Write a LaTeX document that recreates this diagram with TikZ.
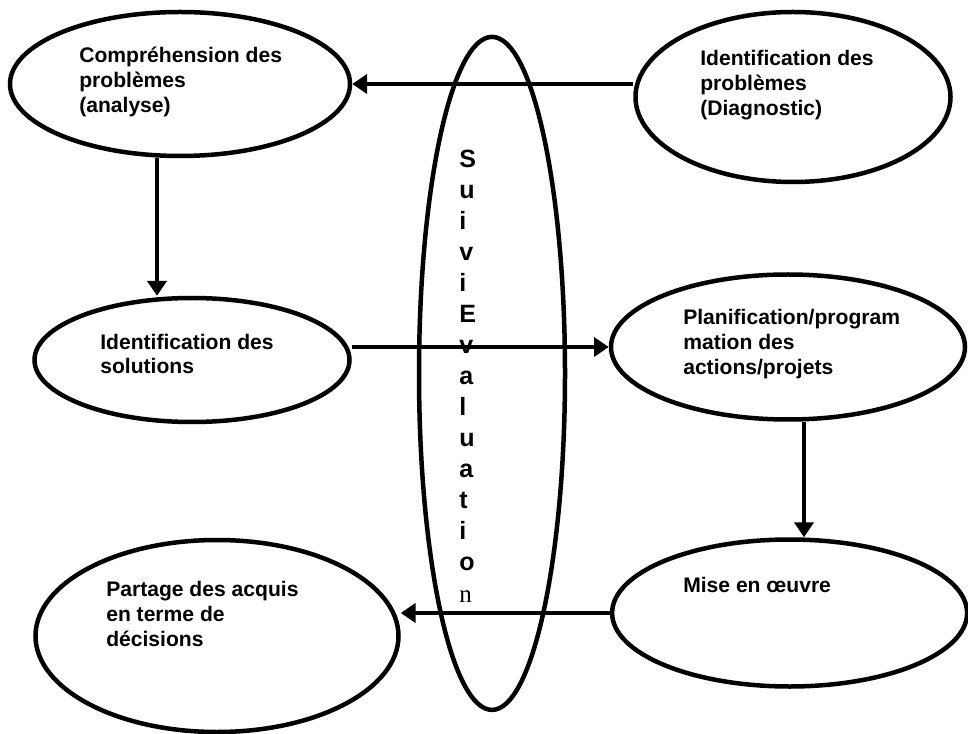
\documentclass[tikz,border=0pt]{standalone}
\usepackage{fontspec}
\setsansfont{Liberation Sans}
\newfontfamily\timesfont{Liberation Serif}
\usepackage{tikz}
\usetikzlibrary{shapes.geometric, arrows.meta, positioning}
\tikzset{
    stage/.style={draw, ellipse, line width=3.2pt, inner sep=0pt},
    stagetext/.style={anchor=base west, align=left, inner sep=0pt, font=\sffamily\bfseries\fontsize{15}{17.6}\selectfont},
    suivitext/.style={anchor=base west, align=left, inner sep=0pt, font=\sffamily\bfseries\fontsize{17.8}{22.1}\selectfont},
    flow/.style={-{Triangle[length=10.5pt, width=13.5pt]}, line width=2.8pt},
}
\begin{document}
\begin{tikzpicture}
                \useasboundingbox (0, 0) rectangle (24.2, 18.325);
                
                % Suivi Evaluation
                \node[stage, minimum width=3.65cm, minimum height=16.825cm] (suivi) at (12.3, 8.99) {};
                \node[suivitext] (suivitxt) at (11.475, 3.275) {S\\u\\i\\v\\i\\E\\v\\a\\l\\u\\a\\t\\i\\o\\{\timesfont\mdseries n}};
                
                % Left column
                \node[stage, minimum width=8.5cm, minimum height=3.6cm] (analyse) at (4.5, 16.225) {};
                \node[stagetext] (analysetxt) at (1.975, 15.52) {Compréhension des\\problèmes\\(analyse)};
                \node[stage, minimum width=7.875cm, minimum height=3.1cm] (solutions) at (4.8, 9.325) {};
                \node[stagetext] (solutionstxt) at (2.5, 8.98) {Identification des\\solutions};
                \node[stage, minimum width=9.075cm, minimum height=4.8cm] (partage) at (5.425, 2.425) {};
                \node[stagetext] (partagetxt) at (2.65, 2.165) {Partage des acquis\\en terme de\\décisions};
                
                % Right column
                \node[stage, minimum width=7.875cm, minimum height=4.25cm] (diagnostic) at (19.825, 15.9) {};
                \node[stagetext] (diagnostictxt) at (17.5, 15.44) {Identification des\\problèmes\\(Diagnostic)};
                \node[stage, minimum width=8.85cm, minimum height=3.625cm] (planif) at (19.7, 9.65) {};
                \node[stagetext] (planiftxt) at (17.075, 8.965) {Planification/program\\mation des\\actions/projets};
                \node[stage, minimum width=8.875cm, minimum height=3.675cm] (oeuvre) at (19.74, 3.0) {};
                \node[stagetext] (oeuvretxt) at (17.075, 3.525) {Mise en œuvre};
                
                % Arrows
                \draw[flow] (diagnostic.west |- analyse.east) -- (analyse.east);
                \draw[flow] ([xshift=-0.575cm]analyse.south) -- ([xshift=-0.575cm]analyse.south |- solutions.north);
                \draw[flow] (solutions.east |- planif.west) -- (planif.west);
                \draw[flow] ([xshift=0.4cm]planif.south) -- ([xshift=0.4cm]planif.south |- oeuvre.north);
                \draw[flow] (oeuvre.west) -- (oeuvre.west -| partage.east);
            \end{tikzpicture}
\end{document}
